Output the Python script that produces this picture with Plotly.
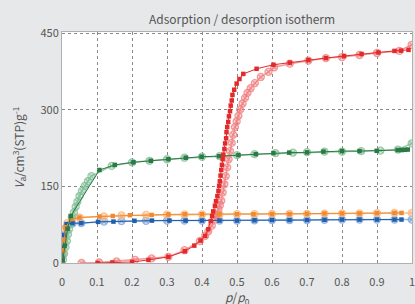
import plotly.graph_objects as go

# ---------------- data ----------------
red_ads_x = [0.102, 0.144, 0.2, 0.247, 0.304, 0.351, 0.378, 0.396, 0.409, 0.418, 0.425, 0.429, 0.432,
             0.437, 0.44, 0.444, 0.447, 0.449, 0.451, 0.453, 0.455, 0.457, 0.459, 0.461, 0.464, 0.466,
             0.469, 0.47, 0.472, 0.475, 0.477, 0.48, 0.482, 0.485, 0.487, 0.492, 0.499, 0.507, 0.518,
             0.556, 0.604, 0.651, 0.704, 0.754, 0.806, 0.856, 0.904, 0.95, 0.969, 0.99]
red_ads_y = [0, 1, 2, 6, 12, 23, 34, 44, 53, 66, 82, 92, 101, 112, 121, 131, 141, 151, 160, 171, 182,
             192, 203, 212, 223, 234, 244, 256, 266, 276, 287, 297, 308, 318, 329, 339, 351, 360, 370,
             380, 388, 392, 397, 401, 405, 409, 412, 415, 415.5, 417]
red_des_x = [0.999, 0.964, 0.9, 0.85, 0.8, 0.754, 0.704, 0.651, 0.606, 0.59, 0.568, 0.551, 0.539, 0.53,
             0.523, 0.516, 0.509, 0.504, 0.499, 0.494, 0.489, 0.485, 0.48, 0.476, 0.472, 0.468, 0.464,
             0.459, 0.455, 0.451, 0.447, 0.442, 0.437, 0.428, 0.418, 0.409, 0.394, 0.35, 0.304, 0.256,
             0.209, 0.156, 0.106, 0.056]
red_des_y = [427, 415, 411, 407, 403, 401, 396, 390, 383, 374, 364, 352, 342, 333, 323, 312, 300, 288,
             277, 266, 251, 235, 219, 203, 187, 170, 154, 138, 122, 113, 105, 94, 85, 73, 62, 53, 43,
             25, 12, 9, 6, 3, 1, 0]

green_ads_x = [0.002, 0.008, 0.016, 0.025, 0.107, 0.151, 0.204, 0.254, 0.304, 0.354, 0.399, 0.449, 0.504,
               0.554, 0.604, 0.649, 0.7, 0.747, 0.8, 0.85, 0.899, 0.959, 0.97, 0.98, 0.988]
green_ads_y = [5, 34, 67, 92, 182, 192, 197, 200, 203, 206, 208, 209, 211, 213, 215, 216, 216.5, 218,
               219, 219, 219.5, 221, 221, 221.5, 222]
green_des_x = [0.999, 0.96, 0.91, 0.855, 0.8, 0.75, 0.7, 0.66, 0.61, 0.55, 0.5, 0.45, 0.4, 0.35, 0.3,
               0.25, 0.2, 0.142, 0.084, 0.074, 0.065, 0.057, 0.05, 0.044, 0.039, 0.034, 0.028, 0.025,
               0.02, 0.017, 0.014, 0.01, 0.006, 0.003]
green_des_y = [234, 222, 220, 219, 218, 218, 217, 216, 215, 213, 211, 209, 208, 206, 203, 200, 197, 190,
               170, 160, 151, 141, 131, 120, 110, 99, 89, 77, 66, 56, 43, 31, 18, 6]

orange_ads_x = [0.002, 0.004, 0.006, 0.01, 0.027, 0.05, 0.107, 0.145, 0.194, 0.256, 0.304, 0.351, 0.4,
                0.45, 0.5, 0.547, 0.6, 0.65, 0.7, 0.75, 0.8, 0.85, 0.9, 0.95, 0.97]
orange_ads_y = [5, 25, 45, 70, 86, 89, 91, 92, 93.5, 94, 95, 95.5, 95.5, 95.5, 95.5, 95.5, 96, 96, 96.5,
                97, 97, 97, 97.5, 98, 98]
orange_des_x = [0.999, 0.95, 0.9, 0.85, 0.8, 0.75, 0.7, 0.65, 0.6, 0.55, 0.5, 0.45, 0.4, 0.35, 0.3,
                0.24, 0.17, 0.12, 0.05, 0.03, 0.015, 0.008, 0.005, 0.003]
orange_des_y = [98, 98, 97.5, 97, 97, 96.5, 96, 96, 96, 95.5, 95.5, 95, 95, 95, 94.5, 94, 93, 91, 89,
                86, 78, 66, 40, 15]

blue_ads_x = [0.001, 0.003, 0.006, 0.013, 0.03, 0.055, 0.103, 0.147, 0.207, 0.257, 0.307, 0.353, 0.4,
              0.45, 0.5, 0.55, 0.6, 0.65, 0.7, 0.75, 0.8, 0.85, 0.9, 0.95, 0.97]
blue_ads_y = [10, 30, 55, 76, 78, 78, 80.5, 81, 82.5, 83, 83, 83, 83, 83, 83, 83.5, 84, 84, 84, 84.5,
              85, 85, 85, 85, 85]
blue_des_x = [0.999, 0.95, 0.9, 0.85, 0.8, 0.75, 0.7, 0.65, 0.6, 0.55, 0.5, 0.45, 0.4, 0.35, 0.3,
              0.24, 0.17, 0.12, 0.055, 0.03, 0.012, 0.006, 0.003, 0.002]
blue_des_y = [85, 85, 85, 85, 85, 84.5, 84, 84, 84, 83.5, 83, 83, 83, 83, 83, 82.5, 82, 81, 78, 77, 70,
              55, 40, 22]

x_ticks = [0, 0.1, 0.2, 0.3, 0.4, 0.5, 0.6, 0.7, 0.8, 0.9, 1]
x_tick_labels = ["0", "0.1", "0.2", "0.3", "0.4", "0.5", "0.6", "0.7", "0.8", "0.9", "1"]
y_ticks = [0, 150, 300, 450]

title_text = "Adsorption / desorption isotherm"
x_title = "<i>p</i>/<i>p</i><sub>0</sub>"
y_title = "<i>V</i><sub>a</sub>/cm<sup>3</sup>(STP)g<sup>-1</sup>"

# ---------------- figure ----------------
FONT = "Noto Sans CJK JP, Noto Sans, sans-serif"
BG = "#e7e8ea"
series = [
    (blue_ads_x, blue_ads_y, blue_des_x, blue_des_y, "#1f5fb0", "rgba(120,160,215,0.75)", "rgba(120,160,215,0.3)"),
    (orange_ads_x, orange_ads_y, orange_des_x, orange_des_y, "#f08a2c", "rgba(250,185,130,0.85)", "rgba(250,185,130,0.35)"),
    (green_ads_x, green_ads_y, green_des_x, green_des_y, "#2a7a45", "rgba(130,190,150,0.8)", "rgba(130,190,150,0.3)"),
    (red_ads_x, red_ads_y, red_des_x, red_des_y, "#e32a2a", "rgba(240,130,130,0.8)", "rgba(240,130,130,0.3)"),
]

fig = go.Figure()
for ax, ay, dx, dy, dark, light, fill in series:
    fig.add_trace(go.Scatter(
        x=dx, y=dy, mode="lines+markers",
        line=dict(color=light, width=1.5),
        marker=dict(symbol="circle-x", size=7, color=fill,
                    line=dict(color=light, width=1.3)),
        showlegend=False, cliponaxis=True))
for ax, ay, dx, dy, dark, light, fill in series:
    fig.add_trace(go.Scatter(
        x=ax, y=ay, mode="lines+markers",
        line=dict(color=dark, width=1),
        marker=dict(symbol="square", size=4.5, color=dark),
        showlegend=False, cliponaxis=True))

fig.update_layout(
    width=415, height=304,
    margin=dict(l=62, r=3, t=32, b=41, autoexpand=False),
    paper_bgcolor=BG, plot_bgcolor="white",
    font=dict(family=FONT, size=11, color="#555555"),
    annotations=[
        dict(text=title_text, x=0.515, y=1, xref="paper", yref="paper",
             xanchor="center", yanchor="bottom", yshift=3, showarrow=False,
             font=dict(size=12, color="#555555", family=FONT)),
        dict(text=x_title, x=0.5, y=0, xref="paper", yref="paper",
             xanchor="center", yanchor="middle", yshift=-34, showarrow=False,
             font=dict(size=12, color="#555555", family=FONT)),
    ],
)
fig.update_xaxes(
    range=[0, 1], tickvals=x_ticks, ticktext=x_tick_labels, automargin=False,
    ticklabeloverflow="allow", ticklabelstandoff=9,
    showgrid=True, gridcolor="#888888", griddash="dot", gridwidth=1,
    showline=True, linecolor="#b0b0b0", linewidth=1, mirror=True,
    zeroline=False, ticks="", ticklen=0,
)
fig.update_yaxes(
    range=[0, 452], tickvals=y_ticks, automargin=False,
    showgrid=True, gridcolor="#888888", griddash="dot", gridwidth=1,
    showline=True, linecolor="#b0b0b0", linewidth=1, mirror=True,
    zeroline=False, ticks="", ticklen=0,
    title=dict(text=y_title, standoff=13, font=dict(size=12, color="#555555")),
)

fig.write_html(
    "out.html",
    config={"displayModeBar": False},
    post_script="document.body.style.margin='0';document.body.style.padding='0';"
                "document.body.style.background='" + BG + "';",
)
